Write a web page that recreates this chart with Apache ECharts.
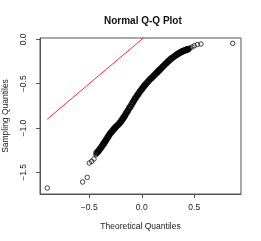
<!DOCTYPE html>
<html><head><meta charset="utf-8">
<script src="https://cdn.jsdelivr.net/npm/echarts@6/dist/echarts.min.js"></script>
<style>html,body{margin:0;padding:0;background:#fff}#c{width:261px;height:241px}</style>
</head><body><div id="c"></div>
<script>
// Isolated points in the tails (theoretical quantile, sampling quantile)
const tailX = [-0.900,-0.563,-0.519,-0.500,-0.477,-0.455,-0.436,0.459,0.478,0.500,0.529,0.564,0.866];
const tailY = [-1.676,-1.608,-1.556,-1.394,-1.376,-1.349,-1.301,-0.098,-0.087,-0.073,-0.059,-0.053,-0.045];
// Densely packed points in the body of the distribution
const bodyX = [-0.430,-0.419,-0.409,-0.398,-0.389,-0.379,-0.370,-0.363,-0.357,-0.351,-0.343,-0.335,-0.327,-0.319,-0.311,-0.303,-0.292,-0.282,-0.271,-0.263,-0.254,-0.246,-0.233,-0.220,-0.208,-0.200,-0.192,-0.184,-0.176,-0.168,-0.160,-0.151,-0.141,-0.131,-0.120,-0.108,-0.096,-0.086,-0.075,-0.065,-0.054,-0.044,-0.033,-0.022,-0.010,0.002,0.011,0.021,0.031,0.043,0.056,0.069,0.082,0.096,0.110,0.121,0.133,0.145,0.154,0.164,0.173,0.186,0.199,0.211,0.225,0.239,0.252,0.264,0.276,0.288,0.303,0.318,0.332,0.343,0.353,0.364,0.374,0.385,0.395,0.404,0.412,0.421,0.428,0.436,0.443];
const bodyY = [-1.282,-1.267,-1.252,-1.237,-1.221,-1.205,-1.189,-1.177,-1.166,-1.155,-1.140,-1.125,-1.110,-1.095,-1.080,-1.065,-1.050,-1.035,-1.020,-1.009,-0.997,-0.986,-0.971,-0.956,-0.941,-0.928,-0.915,-0.902,-0.887,-0.872,-0.857,-0.838,-0.819,-0.801,-0.778,-0.756,-0.733,-0.713,-0.692,-0.671,-0.653,-0.634,-0.615,-0.596,-0.578,-0.559,-0.544,-0.529,-0.514,-0.497,-0.480,-0.463,-0.448,-0.432,-0.416,-0.402,-0.388,-0.373,-0.362,-0.351,-0.340,-0.325,-0.310,-0.295,-0.279,-0.263,-0.247,-0.235,-0.223,-0.210,-0.198,-0.186,-0.173,-0.165,-0.158,-0.150,-0.144,-0.138,-0.132,-0.128,-0.124,-0.120,-0.117,-0.113,-0.109];
// Reference line y = x
const lineX = [-0.9, 0.05];
const lineY = [-0.9, 0.05];
// Tick values
const xTicks = [-0.5, 0.0, 0.5];
const yTicks = [-1.5, -1.0, -0.5, 0.0];

const FONT = 'Liberation Sans';
const fmt = v => (v < 0 ? '\u2212' : '') + Math.abs(v).toFixed(1);
const tail = tailX.map((x, i) => [x, tailY[i]]);
const body = bodyX.map((x, i) => [x, bodyY[i]]);
const ref = lineX.map((x, i) => [x, lineY[i]]);

const chart = echarts.init(document.getElementById('c'), null, {renderer: 'canvas'});
chart.setOption({
  animation: false,
  backgroundColor: '#fff',
  title: {
    text: 'Normal Q-Q Plot', left: 99, top: 11,
    textStyle: {fontFamily: FONT, fontSize: 10, fontWeight: 'bold', color: '#111'}
  },
  grid: {left: 40, right: 20, top: 38, bottom: 47, containLabel: false, outerBoundsMode: 'none',
         show: true, borderColor: '#555', borderWidth: 1, backgroundColor: 'transparent'},
  xAxis: {
    type: 'value', min: -0.969, max: 0.945,
    name: 'Theoretical Quantiles', nameLocation: 'middle', nameGap: 28,
    nameTextStyle: {fontFamily: FONT, fontSize: 8.5, color: '#222'},
    axisLine: {show: true, onZero: false, lineStyle: {color: '#555', width: 1}},
    axisTick: {show: true, length: 4, inside: false, customValues: xTicks, lineStyle: {color: '#555'}},
    axisLabel: {customValues: xTicks, formatter: fmt, margin: 9, fontFamily: FONT, fontSize: 8.5, color: '#222'},
    splitLine: {show: false}
  },
  yAxis: {
    type: 'value', min: -1.743, max: 0.015,
    name: 'Sampling Quantiles', nameLocation: 'middle', nameGap: 30, nameRotate: 90,
    nameTextStyle: {fontFamily: FONT, fontSize: 8.5, color: '#222'},
    axisLine: {show: true, onZero: false, lineStyle: {color: '#555', width: 1}},
    axisTick: {show: true, length: 4, inside: false, customValues: yTicks, lineStyle: {color: '#555'}},
    axisLabel: {customValues: yTicks, formatter: fmt, rotate: 90, margin: 12, fontFamily: FONT, fontSize: 8.5, color: '#222'},
    splitLine: {show: false}
  },
  series: [
    {
      type: 'line', data: ref, symbol: 'none', clip: true,
      lineStyle: {color: '#ff2a2a', width: 1}, z: 1
    },
    {
      type: 'scatter', data: body, symbol: 'circle', symbolSize: 4.6,
      itemStyle: {color: 'rgba(0,0,0,0)', borderColor: '#000', borderWidth: 1.9}, z: 2
    },
    {
      type: 'scatter', data: tail, symbol: 'circle', symbolSize: 4.5,
      itemStyle: {color: 'rgba(0,0,0,0)', borderColor: '#000', borderWidth: 0.9}, z: 2
    }
  ]
});
</script>
</body></html>
